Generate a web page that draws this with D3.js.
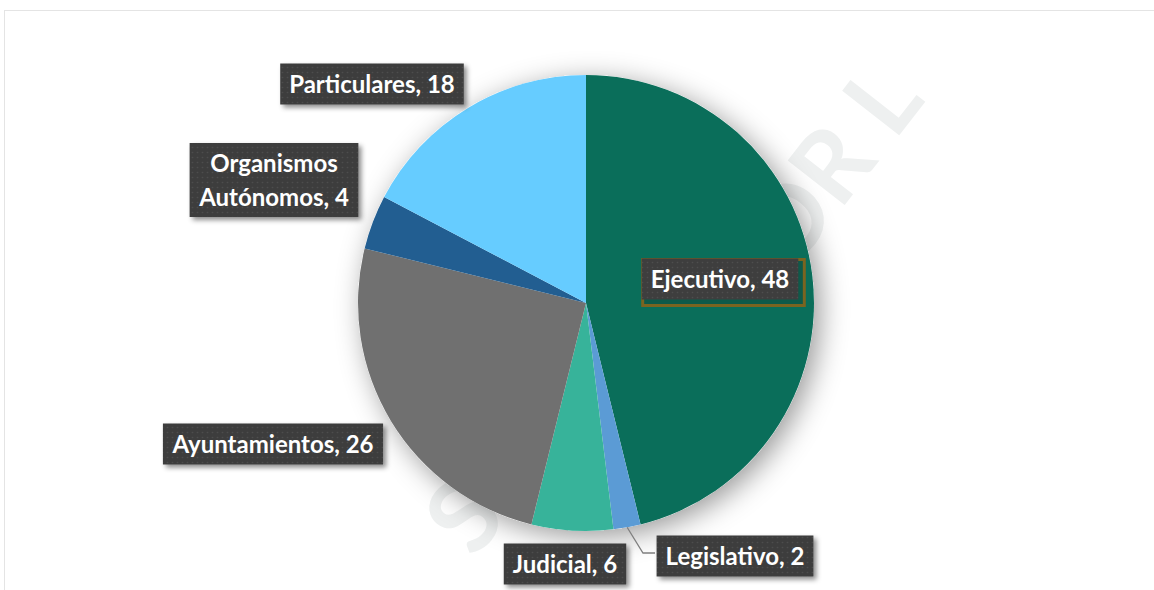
<!DOCTYPE html>
<html>
<head>
<meta charset="utf-8">
<script src="https://cdn.jsdelivr.net/npm/d3@7"></script>
<style>
  body { margin: 0; background: #fff; }
  svg { display: block; }
  .lbl-text { font-family: Lato, "Open Sans", sans-serif; font-weight: 700; fill: #fff; }
</style>
</head>
<body>
<svg id="chart"></svg>
<script>
// data
const categories = ["Ejecutivo", "Legislativo", "Judicial", "Ayuntamientos", "Organismos Autónomos", "Particulares"];
const values = [48, 2, 6, 26, 4, 18];
const colors = ["#0a6e5a", "#5b9bd5", "#37b39a", "#707070", "#225e91", "#66ccff"];

// label box centres (layout only)
const labelLayout = {
    "Ejecutivo": [720, 279],
    "Legislativo": [735, 556],
    "Judicial": [565, 564],
    "Ayuntamientos": [273, 444],
    "Organismos Autónomos": [274, 180],
    "Particulares": [372, 84]
};

const width = 1154, height = 590;
const cx = 586, cy = 303, radius = 228;

const svg = d3.select("#chart").attr("width", width).attr("height", height);
const defs = svg.append("defs");

const pieShadow = defs.append("filter").attr("id", "pieShadow")
    .attr("x", "-30%").attr("y", "-30%").attr("width", "160%").attr("height", "160%");
pieShadow.append("feDropShadow").attr("dx", 6).attr("dy", 6)
    .attr("stdDeviation", 14).attr("flood-color", "#000").attr("flood-opacity", 0.4);

const boxShadow = defs.append("filter").attr("id", "boxShadow")
    .attr("x", "-20%").attr("y", "-30%").attr("width", "140%").attr("height", "170%");
boxShadow.append("feDropShadow").attr("dx", 3).attr("dy", 3)
    .attr("stdDeviation", 2.5).attr("flood-color", "#000").attr("flood-opacity", 0.45);

const dots = defs.append("pattern").attr("id", "dots")
    .attr("patternUnits", "userSpaceOnUse").attr("width", 5).attr("height", 5);
dots.append("rect").attr("width", 5).attr("height", 5).attr("fill", "#3e3e3e");
dots.append("circle").attr("cx", 2.5).attr("cy", 2.5).attr("r", 0.8).attr("fill", "#4e4e4e");

// frame
svg.append("rect")
    .attr("x", 4.5).attr("y", 10.5).attr("width", width + 10).attr("height", height + 10)
    .attr("fill", "#fff").attr("stroke", "#e4e4e4");

// faint watermark
const wm = svg.append("g").attr("fill", "#eef0f0")
    .attr("font-family", "Lato, sans-serif").attr("font-weight", 700).attr("font-size", 100);
wm.append("text").attr("transform", "translate(475,560) rotate(-52)").text("SI");
wm.append("text").attr("transform", "translate(790,275) rotate(-52)").text("OR L");

const pie = d3.pie().sort(null).value(d => d)(values);
const arc = d3.arc().innerRadius(0).outerRadius(radius);

const g = svg.append("g").attr("transform", `translate(${cx},${cy})`);
g.append("circle").attr("r", radius).attr("fill", "#fff").attr("filter", "url(#pieShadow)");
g.selectAll("path.slice").data(pie).enter().append("path")
    .attr("class", "slice")
    .attr("d", arc)
    .attr("fill", (d, i) => colors[i]);

// leader line for the small slice
const legIdx = categories.indexOf("Legislativo");
const legMid = (pie[legIdx].startAngle + pie[legIdx].endAngle) / 2;
const lp = labelLayout["Legislativo"];
const edge = [cx + Math.sin(legMid) * radius, cy - Math.cos(legMid) * radius];
svg.append("polyline")
    .attr("points", [edge, [lp[0] - 92, lp[1] - 3], [lp[0] - 80, lp[1] - 3]].map(p => p.join(",")).join(" "))
    .attr("fill", "none").attr("stroke", "#7f7f7f").attr("stroke-width", 1.3);

// labels
const fontSize = 24, lineH = 34, padX = 9, boxH1 = 41;
categories.forEach((c, i) => {
    const [lx, ly] = labelLayout[c];
    const lines = c === "Organismos Autónomos"
        ? ["Organismos", "Autónomos, " + values[i]]
        : [c + ", " + values[i]];
    const lg = svg.append("g");
    const t = lg.append("text").attr("class", "lbl-text").attr("font-size", fontSize)
        .attr("text-anchor", "middle");
    lines.forEach((s, k) => {
        t.append("tspan").attr("x", lx)
            .attr("y", ly + (k - (lines.length - 1) / 2) * lineH + fontSize * 0.36)
            .text(s);
    });
    const bb = t.node().getBBox();
    const w = bb.width + padX * 2;
    const h = lines.length === 1 ? boxH1 : lineH * lines.length + 6;
    if (c === "Ejecutivo") {
        lg.insert("rect", "text")
            .attr("x", lx - w / 2 + 1).attr("y", ly - h / 2 + 1)
            .attr("width", w + 5).attr("height", h + 5)
            .attr("fill", "#0e5a4a").attr("stroke", "#7a6420").attr("stroke-width", 3);
    }
    lg.insert("rect", "text")
        .attr("x", lx - w / 2).attr("y", ly - h / 2)
        .attr("width", w).attr("height", h)
        .attr("fill", "url(#dots)")
        .attr("filter", c === "Ejecutivo" ? null : "url(#boxShadow)");
});
</script>
</body>
</html>
